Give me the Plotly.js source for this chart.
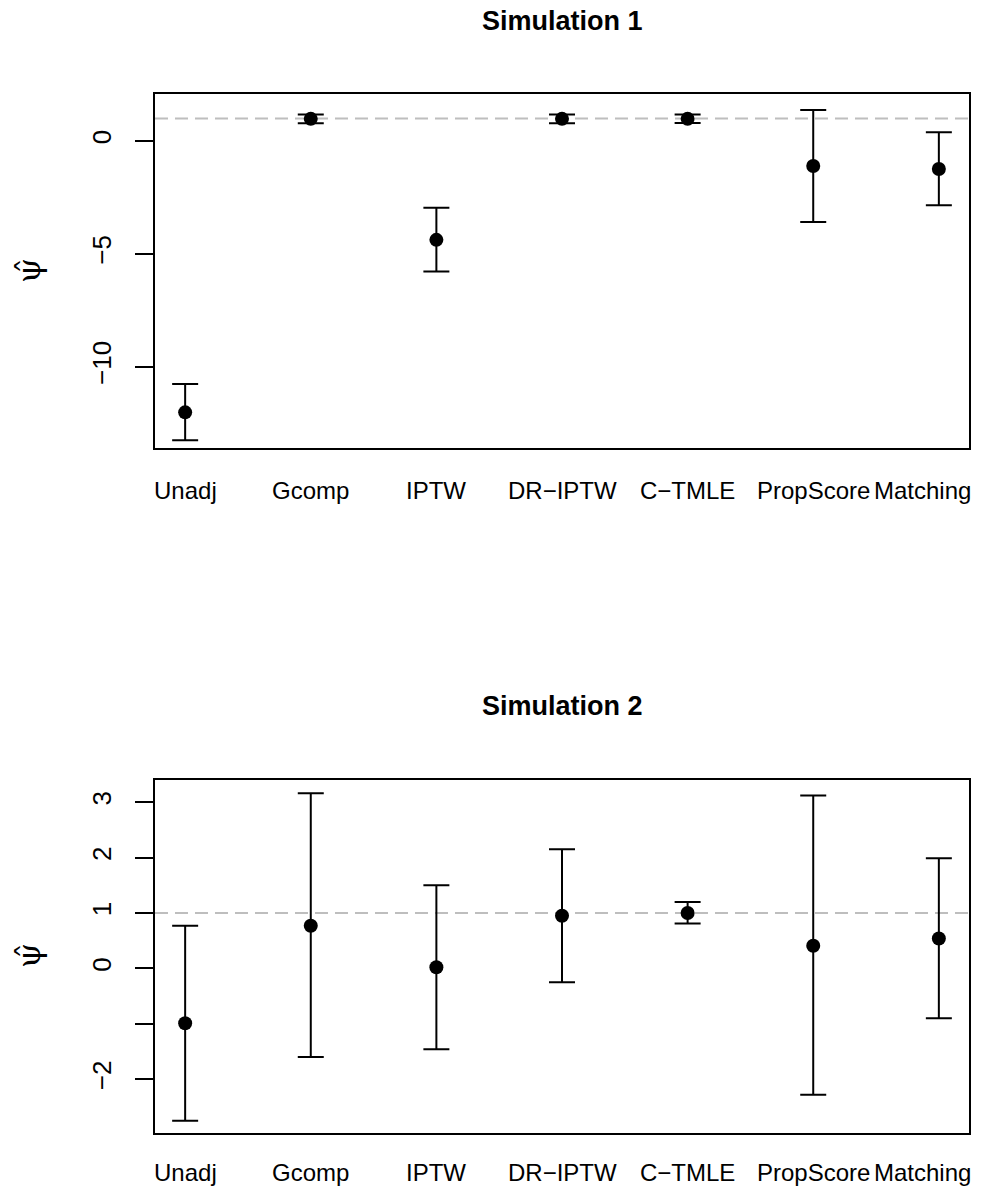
<!DOCTYPE html>
<html>
<head>
<meta charset="utf-8">
<script src="https://cdn.plot.ly/plotly-3.0.1.min.js"></script>
<style>html,body{margin:0;padding:0;background:#fff;}#chart{width:982px;height:1190px;}</style>
</head>
<body>
<div id="chart"></div>
<script>
// ---- data ----
const methods = ["Unadj", "Gcomp", "IPTW", "DR\u2212IPTW", "C\u2212TMLE", "PropScore", "Matching"];
const trueValue = 1;

// Simulation 1
const sim1Est   = [-12.02, 0.98, -4.38, 0.98, 0.98, -1.11, -1.24];
const sim1Lower = [-13.26, 0.78, -5.78, 0.78, 0.79, -3.59, -2.85];
const sim1Upper = [-10.76, 1.17, -2.96, 1.17, 1.17, 1.37, 0.39];
const sim1TickVals = [-10, -5, 0];
const sim1TickText = ["\u221210", "\u22125", "0"];

// Simulation 2
const sim2Est   = [-0.99, 0.77, 0.02, 0.95, 1.00, 0.41, 0.54];
const sim2Lower = [-2.75, -1.60, -1.46, -0.25, 0.81, -2.28, -0.90];
const sim2Upper = [0.77, 3.16, 1.50, 2.15, 1.20, 3.12, 1.99];
const sim2TickVals = [-2, -1, 0, 1, 2, 3];
const sim2TickText = ["\u22122", "", "0", "1", "2", "3"];

const titles = ["Simulation 1", "Simulation 2"];
const yLabel = "\u03c8\u0302";

// ---- build ----
function trace(est, lo, hi, xa, ya) {
  return {
    type: "scatter", mode: "markers",
    x: methods, y: est, xaxis: xa, yaxis: ya,
    marker: {color: "#000", size: 14},
    error_y: {
      type: "data", symmetric: false,
      array: hi.map((h, i) => h - est[i]),
      arrayminus: lo.map((l, i) => est[i] - l),
      color: "#000", thickness: 2, width: 13
    },
    showlegend: false, hoverinfo: "skip"
  };
}

const xTickFont = {family: "Liberation Sans, Arial, sans-serif", size: 24, color: "#000"};
const yTickFont = {family: "Liberation Sans, Arial, sans-serif", size: 26, color: "#000"};

function xaxisDef() {
  return {
    domain: [155/982, 969/982],
    type: "category",
    categoryorder: "array", categoryarray: methods,
    range: [-0.24, 6.24],
    showline: true, mirror: true, linecolor: "#000", linewidth: 2,
    showgrid: false, zeroline: false,
    ticks: "", showticklabels: false,
    fixedrange: true
  };
}
function yaxisDef(domain, range, tv, tt) {
  return {
    domain: domain, range: range,
    showline: true, mirror: true, linecolor: "#000", linewidth: 2,
    showgrid: false, zeroline: false,
    ticks: "outside", ticklen: 18, tickwidth: 2, tickcolor: "#000",
    tickvals: tv, ticktext: tt, tickangle: -90,
    ticklabelstandoff: 14,
    tickfont: yTickFont,
    fixedrange: true
  };
}

// category labels under each panel, placed on the category axis
function categoryLabels(xa, ya, yshift) {
  return methods.map((m, i) => ({
    text: m, xref: xa, yref: ya + " domain", x: m, y: 0,
    xanchor: "center", yanchor: "middle", yshift: yshift,
    xshift: i === methods.length - 1 ? -16 : 0,
    showarrow: false, font: xTickFont
  }));
}

const data = [
  trace(sim1Est, sim1Lower, sim1Upper, "x", "y"),
  trace(sim2Est, sim2Lower, sim2Upper, "x2", "y2")
];

const refLine = (xr, yr) => ({
  type: "line", xref: xr + " domain", yref: yr,
  x0: 0, x1: 1, y0: trueValue, y1: trueValue,
  line: {color: "#bebebe", width: 2, dash: "13px,7px"},
  layer: "below"
});

const titleFont = {family: "Liberation Sans, Arial, sans-serif", size: 27, color: "#000"};
const psiFont = {family: "DejaVu Serif, Liberation Serif, serif", size: 32, color: "#000"};

const layout = {
  width: 982, height: 1190,
  margin: {l: 0, r: 0, t: 0, b: 0},
  paper_bgcolor: "#fff", plot_bgcolor: "#fff",
  xaxis: Object.assign(xaxisDef(), {anchor: "y"}),
  yaxis: Object.assign(yaxisDef([1-448/1190, 1-94/1190], [-13.60, 2.08], sim1TickVals, sim1TickText), {anchor: "x"}),
  xaxis2: Object.assign(xaxisDef(), {anchor: "y2"}),
  yaxis2: Object.assign(yaxisDef([1-1133.3/1190, 1-780/1190], [-2.975, 3.40], sim2TickVals, sim2TickText), {anchor: "x2"}),
  shapes: [refLine("x", "y"), refLine("x2", "y2")],
  annotations: [
    {text: "<b>" + titles[0] + "</b>", xref: "paper", yref: "paper", x: 562/982, y: 1-21/1190,
     xanchor: "center", yanchor: "middle", showarrow: false, font: titleFont},
    {text: "<b>" + titles[1] + "</b>", xref: "paper", yref: "paper", x: 562/982, y: 1-706/1190,
     xanchor: "center", yanchor: "middle", showarrow: false, font: titleFont},
    {text: yLabel, xref: "paper", yref: "paper", x: 29/982, y: 1-271/1190,
     xanchor: "center", yanchor: "middle", textangle: -90, showarrow: false, font: psiFont},
    {text: yLabel, xref: "paper", yref: "paper", x: 29/982, y: 1-956/1190,
     xanchor: "center", yanchor: "middle", textangle: -90, showarrow: false, font: psiFont}
  ].concat(categoryLabels("x", "y", -42), categoryLabels("x2", "y2", -39))
};

Plotly.newPlot("chart", data, layout, {displayModeBar: false, staticPlot: true});
</script>
</body>
</html>
